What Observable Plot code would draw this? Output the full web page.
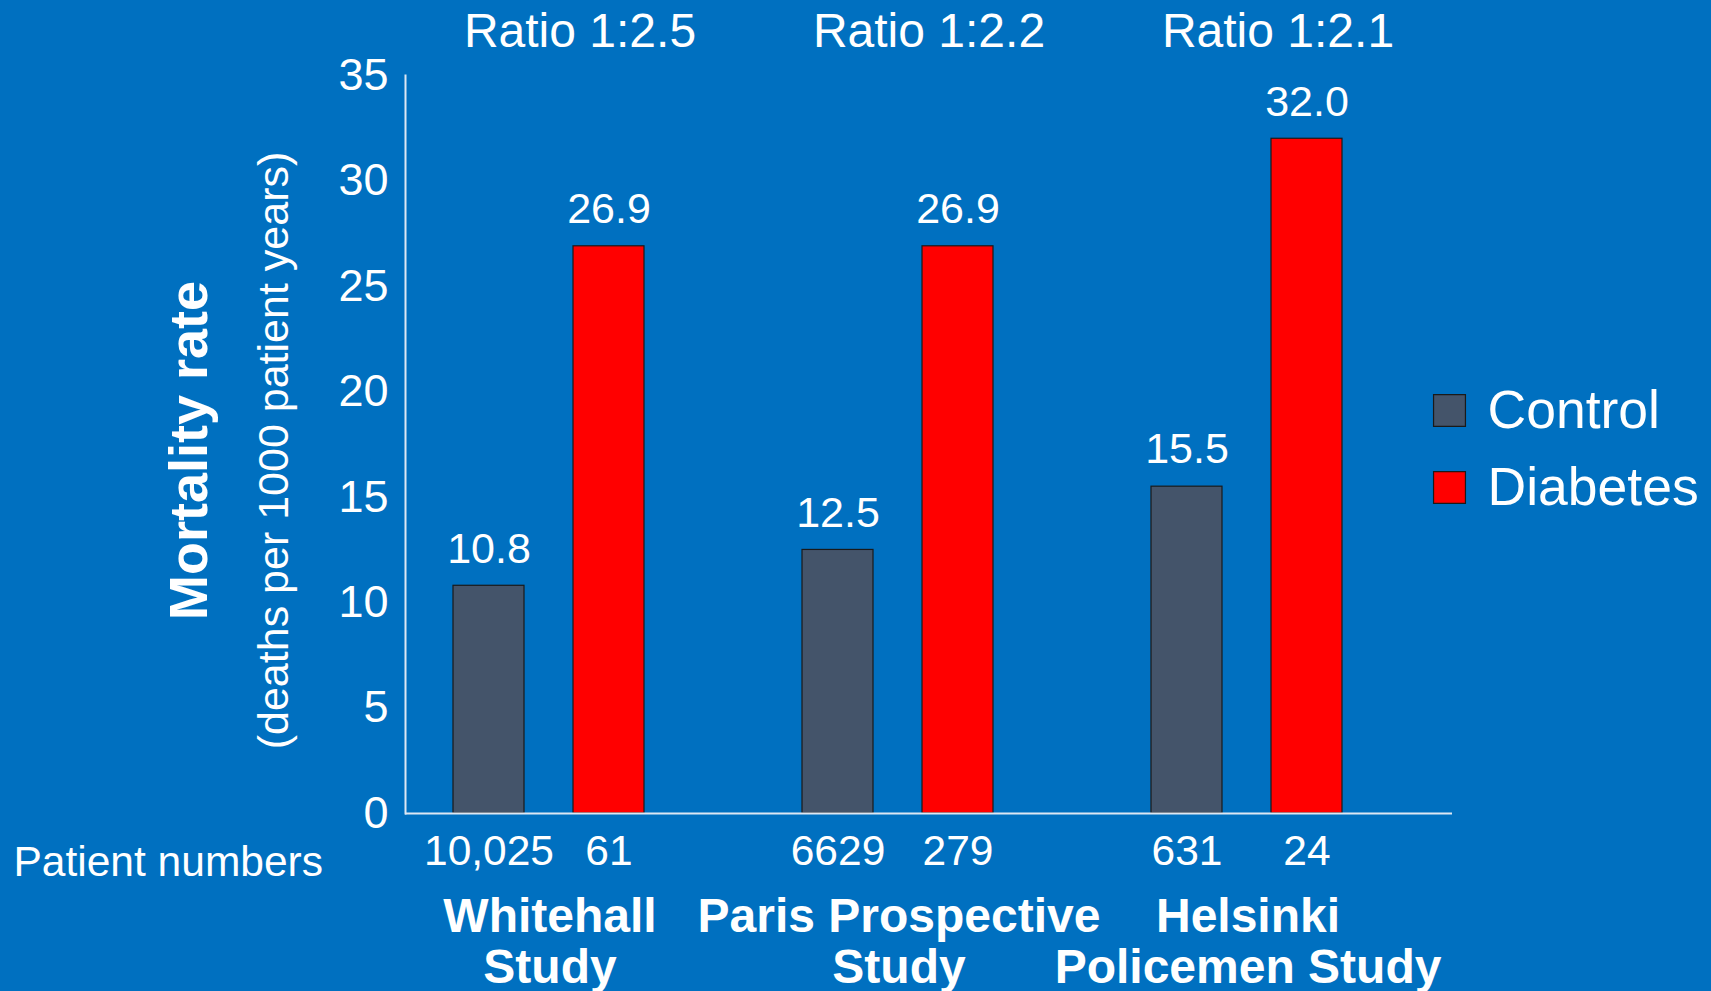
<!DOCTYPE html>
<html>
<head>
<meta charset="utf-8">
<script src="https://cdn.jsdelivr.net/npm/d3@7"></script>
<script src="https://cdn.jsdelivr.net/npm/@observablehq/plot@0.6"></script>
<style>
  html, body { margin: 0; padding: 0; background: #0070C0; overflow: hidden; }
  #chart svg { display: block; }
</style>
</head>
<body>
<div id="chart"></div>
<script>
// ---- data ----
const studies = ["Whitehall Study", "Paris Prospective Study", "Helsinki Policemen Study"];
const studyLabels = ["Whitehall\nStudy", "Paris Prospective\nStudy", "Helsinki\nPolicemen Study"];
const groups = ["Control", "Diabetes"];
const controlRate = [10.8, 12.5, 15.5];
const diabetesRate = [26.9, 26.9, 32.0];
const controlPatients = ["10,025", "6629", "631"];
const diabetesPatients = ["61", "279", "24"];
const yTicks = [0, 5, 10, 15, 20, 25, 30, 35];
const yTitle = "Mortality rate";
const ySubtitle = "(deaths per 1000 patient years)";
const patientTitle = "Patient numbers";

// ---- table built from arrays ----
const rows = [];
studies.forEach((s, i) => {
  rows.push({study: s, group: groups[0], value: controlRate[i], patients: controlPatients[i]});
  rows.push({study: s, group: groups[1], value: diabetesRate[i], patients: diabetesPatients[i]});
});
const ratios = studies.map((s, i) => ({study: s, label: "Ratio 1:" + (diabetesRate[i] / controlRate[i]).toFixed(1)}));

const FONT = "Liberation Sans, Arial, Helvetica, sans-serif";
const WHITE = "#ffffff";
const AXIS = "#dde7f3";
const first = studies[0];
const last = studies[studies.length - 1];

const chart = Plot.plot({
  width: 1711,
  height: 991,
  marginLeft: 404,
  marginRight: 258,
  marginTop: 75,
  marginBottom: 178,
  style: {fontFamily: FONT, background: "#0070C0", color: WHITE, overflow: "visible"},
  fx: {domain: studies, padding: 0, axis: null},
  x: {domain: groups, paddingInner: 0.405, paddingOuter: 0.6475, align: 0.306, axis: null},
  y: {domain: [0, 35], axis: null},
  color: {domain: groups, range: ["#44546A", "#FF0000"]},
  marks: [
    Plot.axisY({ticks: yTicks, tickSize: 0, tickPadding: 17, fontSize: 45, label: null, color: WHITE}),
    Plot.frame({anchor: "left", facetAnchor: "left", stroke: AXIS, strokeWidth: 2}),
    Plot.barY(rows, {fx: "study", x: "group", y: "value", fill: "group", stroke: "#1a1a1a", strokeWidth: 1.2}),
    Plot.ruleY([0], {stroke: AXIS, strokeWidth: 2}),
    Plot.text(rows, {fx: "study", x: "group", y: "value", text: d => d.value.toFixed(1), dy: -37, fontSize: 43, fill: WHITE}),
    Plot.text(rows, {fx: "study", x: "group", text: "patients", frameAnchor: "bottom", lineAnchor: "middle", dy: 38, fontSize: 42.5, fill: WHITE}),
    Plot.text(ratios, {fx: "study", text: "label", frameAnchor: "top", lineAnchor: "middle", dy: -44, fontSize: 48, fill: WHITE}),
    Plot.text(studies, {fx: d => d, text: (d, i) => studyLabels[i], frameAnchor: "bottom", lineAnchor: "top", lineHeight: 1.06, dy: 82, dx: -30, fontSize: 48, fontWeight: "bold", fill: WHITE}),
    Plot.text([patientTitle], {fx: () => first, text: d => d, frameAnchor: "bottom-left", textAnchor: "start", lineAnchor: "middle", dx: -392, dy: 49, fontSize: 42.5, fill: WHITE}),
    Plot.text([yTitle], {fx: () => first, text: d => d, frameAnchor: "left", textAnchor: "middle", lineAnchor: "middle", rotate: -90, dx: -216, dy: 6, fontSize: 54, fontWeight: "bold", fill: WHITE}),
    Plot.text([ySubtitle], {fx: () => first, text: d => d, frameAnchor: "left", textAnchor: "middle", lineAnchor: "middle", rotate: -90, dx: -131, dy: 6, fontSize: 43, fill: WHITE}),
    ...groups.map((g, i) => Plot.dot([g], {fx: () => last, fill: d => d, symbol: "square", r: 18, frameAnchor: "right", dx: -3, dy: -34 + i * 77, stroke: "#1a1a1a", strokeWidth: 1.2})),
    ...groups.map((g, i) => Plot.text([g], {fx: () => last, text: d => d, frameAnchor: "right", textAnchor: "start", lineAnchor: "middle", dx: 35, dy: -34 + i * 77, fontSize: 53.5, fill: WHITE}))
  ]
});
document.getElementById("chart").appendChild(chart);
</script>
</body>
</html>
